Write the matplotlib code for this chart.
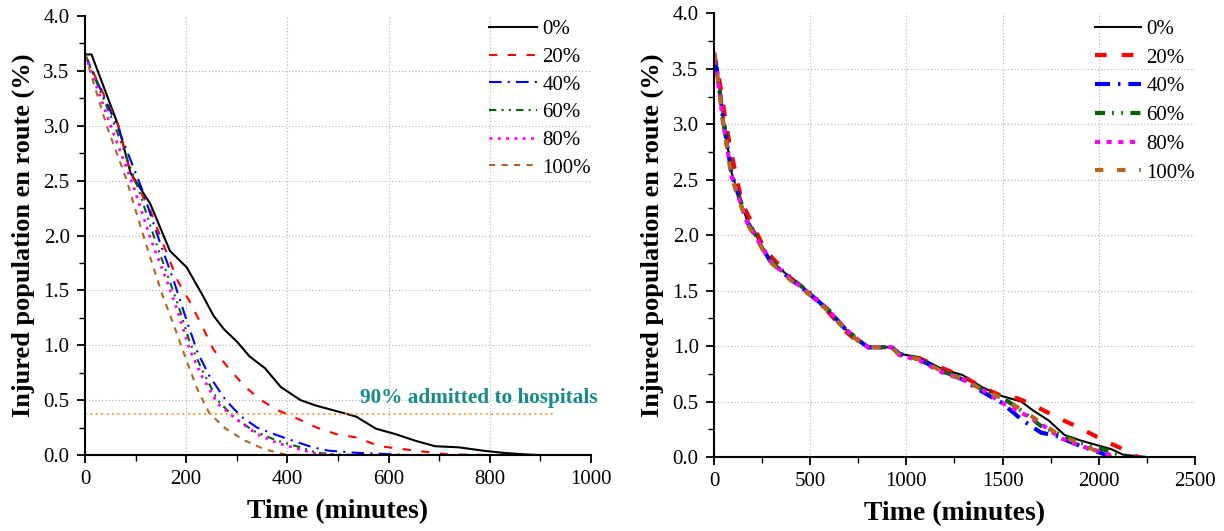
import matplotlib
matplotlib.use("Agg")
import matplotlib.pyplot as plt
from matplotlib.ticker import MultipleLocator, FormatStrFormatter

plt.rcParams['font.family'] = ['Liberation Serif', 'DejaVu Serif']

labels = ["0%", "20%", "40%", "60%", "80%", "100%"]
colors = ["#000000", "#ff0000", "#0000ff", "#006400", "#ff00ff", "#b8641e"]

# ---- Left panel data ----
L0_x = [0, 13, 66, 90, 129, 168, 201, 232, 254, 274, 301, 325, 356, 387, 426, 457, 505, 536, 575, 614, 653, 692, 739, 786, 826, 872, 896]
L0_y = [3.65, 3.65, 3.0, 2.57, 2.29, 1.86, 1.71, 1.46, 1.27, 1.15, 1.03, 0.90, 0.79, 0.62, 0.50, 0.45, 0.39, 0.35, 0.24, 0.19, 0.13, 0.08, 0.07, 0.04, 0.02, 0.005, 0.0]
L20_x = [0, 66, 90, 129, 160, 184, 207, 231, 254, 286, 317, 348, 380, 411, 458, 497, 536, 583, 653, 716, 802]
L20_y = [3.65, 3.0, 2.57, 2.23, 1.86, 1.58, 1.40, 1.18, 0.96, 0.78, 0.62, 0.50, 0.41, 0.35, 0.25, 0.19, 0.16, 0.08, 0.04, 0.006, 0.0]
L40_x = [0, 66, 113, 145, 176, 200, 223, 246, 278, 309, 340, 380, 411, 450, 481, 536, 614, 638]
L40_y = [3.65, 2.97, 2.42, 1.98, 1.58, 1.24, 0.93, 0.72, 0.50, 0.35, 0.25, 0.18, 0.13, 0.07, 0.04, 0.02, 0.006, 0.0]
L60_x = [0, 59, 106, 137, 160, 184, 207, 231, 262, 293, 333, 380, 426, 458, 497, 536]
L60_y = [3.65, 3.0, 2.42, 1.98, 1.68, 1.37, 1.03, 0.78, 0.50, 0.35, 0.22, 0.13, 0.07, 0.02, 0.006, 0.0]
L80_x = [0, 51, 98, 129, 160, 184, 207, 231, 262, 301, 340, 380, 426, 458, 497]
L80_y = [3.65, 3.0, 2.42, 1.98, 1.61, 1.30, 0.96, 0.72, 0.47, 0.32, 0.19, 0.11, 0.05, 0.01, 0.0]
L100_x = [0, 43, 82, 106, 129, 153, 176, 200, 223, 246, 278, 317, 356, 395, 426]
L100_y = [3.65, 3.0, 2.51, 2.14, 1.80, 1.46, 1.18, 0.87, 0.59, 0.38, 0.24, 0.13, 0.05, 0.006, 0.0]

threshold_y = 0.37
threshold_xmax = 925
annot_text = "90% admitted to hospitals"

# ---- Right panel data ----
R0_x = [0, 15, 47, 92, 171, 291, 395, 499, 598, 679, 761, 801, 924, 965, 1067, 1189, 1291, 1393, 1495, 1597, 1658, 1739, 1821, 1903, 1984, 2066, 2127, 2188, 2249]
R0_y = [3.62, 3.52, 3.07, 2.56, 2.14, 1.78, 1.62, 1.48, 1.32, 1.16, 1.04, 0.99, 0.99, 0.93, 0.90, 0.79, 0.74, 0.63, 0.55, 0.50, 0.42, 0.33, 0.20, 0.15, 0.11, 0.07, 0.02, 0.01, 0.0]
R20_x = [0, 5, 31, 57, 83, 146, 265, 395, 499, 598, 679, 761, 801, 924, 965, 1067, 1189, 1291, 1393, 1495, 1577, 1658, 1780, 1903, 2025, 2127, 2188, 2208]
R20_y = [3.65, 3.60, 3.37, 3.07, 2.80, 2.29, 1.87, 1.62, 1.47, 1.30, 1.14, 1.02, 0.99, 0.99, 0.92, 0.89, 0.80, 0.73, 0.63, 0.55, 0.53, 0.47, 0.36, 0.26, 0.15, 0.07, 0.01, 0.0]
R40_x = [0, 15, 47, 92, 171, 291, 395, 499, 598, 679, 761, 801, 924, 965, 1067, 1189, 1291, 1393, 1495, 1597, 1699, 1780, 1903, 2005, 2066]
R40_y = [3.60, 3.50, 3.06, 2.55, 2.13, 1.77, 1.61, 1.47, 1.32, 1.16, 1.04, 0.99, 0.99, 0.93, 0.88, 0.77, 0.70, 0.59, 0.49, 0.34, 0.22, 0.19, 0.10, 0.04, 0.0]
R60_x = [0, 15, 47, 92, 171, 291, 395, 499, 598, 679, 761, 801, 924, 965, 1067, 1189, 1291, 1393, 1495, 1597, 1699, 1801, 1903, 2005, 2107, 2188]
R60_y = [3.62, 3.51, 3.06, 2.55, 2.14, 1.78, 1.62, 1.48, 1.32, 1.16, 1.04, 0.99, 0.99, 0.93, 0.88, 0.77, 0.71, 0.61, 0.54, 0.42, 0.28, 0.20, 0.13, 0.08, 0.02, 0.0]
R80_x = [0, 15, 47, 92, 171, 291, 395, 499, 598, 679, 761, 801, 924, 965, 1067, 1189, 1291, 1393, 1495, 1597, 1699, 1801, 1903, 2025, 2086]
R80_y = [3.58, 3.47, 3.03, 2.53, 2.12, 1.77, 1.61, 1.47, 1.32, 1.16, 1.04, 0.99, 0.99, 0.92, 0.87, 0.76, 0.70, 0.61, 0.49, 0.40, 0.30, 0.17, 0.10, 0.04, 0.0]
R100_x = [0, 15, 47, 92, 171, 291, 395, 499, 598, 679, 761, 801, 924, 965, 1067, 1189, 1291, 1393, 1495, 1597, 1699, 1801, 1903, 2005, 2066]
R100_y = [3.65, 3.48, 3.02, 2.52, 2.11, 1.76, 1.60, 1.46, 1.31, 1.15, 1.03, 0.99, 0.99, 0.92, 0.88, 0.77, 0.70, 0.61, 0.53, 0.43, 0.31, 0.19, 0.12, 0.04, 0.0]

left_x = [L0_x, L20_x, L40_x, L60_x, L80_x, L100_x]
left_y = [L0_y, L20_y, L40_y, L60_y, L80_y, L100_y]
right_x = [R0_x, R20_x, R40_x, R60_x, R80_x, R100_x]
right_y = [R0_y, R20_y, R40_y, R60_y, R80_y, R100_y]

left_styles = ["-", (0, (4, 5)), (0, (6, 3, 1, 3)), (0, (3.5, 2.5, 1, 2.5, 1, 2.5)), (0, (1, 2)), (0, (3, 3))]
left_lw = [1.5, 1.5, 1.5, 1.5, 2.0, 1.5]
right_styles = ["-", (0, (2.8, 3.6)), (0, (3.6, 1.9, 0.6, 1.9)), (0, (2.4, 1.7, 0.4, 1.8, 0.4, 1.8)), (0, (1.2, 1.6)), (0, (2, 3.3))]
right_lw = [1.5, 3.0, 3.0, 3.0, 3.0, 3.0]

fig = plt.figure(figsize=(12.24, 5.31), dpi=100)
axL = fig.add_axes([0.0694, 0.1431, 0.4134, 0.8267])
axR = fig.add_axes([0.5833, 0.1394, 0.3930, 0.8352])


def style_axis(ax, xmax, xmajor, xminor):
    ax.set_xlim(0, xmax)
    ax.set_ylim(0, 4.0)
    ax.xaxis.set_major_locator(MultipleLocator(xmajor))
    ax.xaxis.set_minor_locator(MultipleLocator(xminor))
    ax.yaxis.set_major_locator(MultipleLocator(0.5))
    ax.yaxis.set_minor_locator(MultipleLocator(0.25))
    ax.yaxis.set_major_formatter(FormatStrFormatter('%.1f'))
    for v in range(1, int(xmax / xmajor)):
        ax.axvline(v * xmajor, color='#b0b0b0', lw=0.8, ls=(0, (1, 2)), zorder=0)
    for v in [0.5, 1.0, 1.5, 2.0, 2.5, 3.0, 3.5]:
        ax.axhline(v, color='#b0b0b0', lw=0.8, ls=(0, (1, 2)), zorder=0)
    for s in ['top', 'right']:
        ax.spines[s].set_visible(False)
    for s in ['left', 'bottom']:
        ax.spines[s].set_linewidth(1.5)
    ax.tick_params(which='major', direction='out', length=6, width=1.3, labelsize=15, pad=5)
    ax.tick_params(which='minor', direction='out', length=4, width=1.0)
    ax.set_xlabel("Time (minutes)", fontsize=20, fontweight='bold', labelpad=7)
    ax.set_ylabel("Injured population en route (%)", fontsize=19, fontweight='bold', labelpad=6)


style_axis(axL, 1000, 200, 100)
style_axis(axR, 2500, 500, 250)

for xs, ys, lab, c, ls, lw in zip(left_x, left_y, labels, colors, left_styles, left_lw):
    axL.plot(xs, ys, color=c, ls=ls, lw=lw, label=lab)
axL.axhline(threshold_y, xmin=0, xmax=threshold_xmax / 1000, color='#ff8c1a', lw=1.3, ls=(0, (1, 2)))
axL.text(1014, 0.52, annot_text, color='#178a8a', fontsize=15.3, fontweight='bold', ha='right', va='center')

for xs, ys, lab, c, ls, lw in zip(right_x, right_y, labels, colors, right_styles, right_lw):
    axR.plot(xs, ys, color=c, ls=ls, lw=lw, label=lab)

for ax, hl, anchor_y, lsp in [(axL, 2.3, 0.992, 0.39), (axR, 2.2, 0.987, 0.44)]:
    ax.legend(loc='upper right', bbox_to_anchor=(1.0, anchor_y), frameon=False, fontsize=15,
              handlelength=hl, labelspacing=lsp, handletextpad=0.25, borderaxespad=0.0,
              borderpad=0.0)

fig.savefig("out.png", dpi=100)
